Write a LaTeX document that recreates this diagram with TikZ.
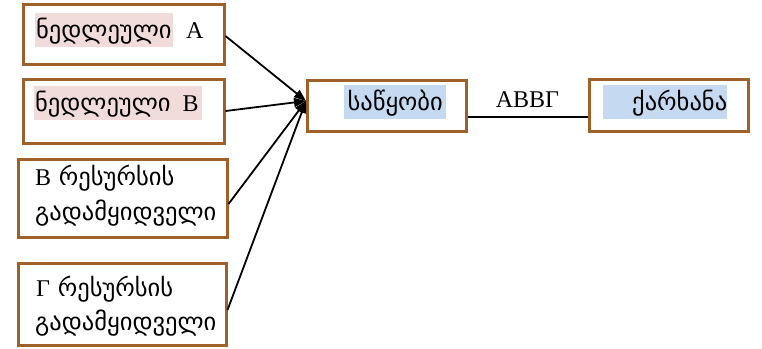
\documentclass[tikz,border=0pt]{standalone}
\usepackage{fontspec}
\setmainfont{Liberation Serif}
\newfontfamily\geo{DejaVu Sans}
\usetikzlibrary{arrows.meta}
\definecolor{boxbrown}{HTML}{A0602A}
\definecolor{hlpink}{HTML}{F2DCDB}
\definecolor{hlblue}{HTML}{C5D9F1}
\tikzset{
  box/.style={draw=boxbrown, line width=3pt, rectangle, inner sep=0pt},
  txt/.style={font=\fontsize{24}{36}\selectfont, inner sep=0pt, anchor=base west},
  geotxt/.style={font=\geo\fontsize{24.5}{36}\selectfont, inner sep=0pt, anchor=base west},
  hl/.style={inner xsep=0pt, text height=25pt, text depth=9pt},
  conn/.style={line width=1.8pt, -{Triangle[length=12pt,width=9pt]}},
  plain/.style={line width=1.3pt}
}
\begin{document}
\begin{tikzpicture}[x=1pt,y=-1pt]
\useasboundingbox (0,0) rectangle (762,348);
% boxes
\node[box, minimum width=201pt, minimum height=60pt] (A) at (123.5,34.5) {};
\node[box, minimum width=201pt, minimum height=64pt] (B) at (123.5,111) {};
\node[box, minimum width=209pt, minimum height=78pt] (C) at (122.5,198) {};
\node[box, minimum width=208pt, minimum height=82pt] (D) at (122,304) {};
\node[box, minimum width=159pt, minimum height=51pt] (S) at (386.5,105.5) {};
\node[box, minimum width=159pt, minimum height=52pt] (F) at (668.5,105) {};
% texts
\node[geotxt, fill=hlpink, hl, text width=138pt] (At) at (35,38) {\hspace{1pt}ნედლეული};
\node[txt] (Al) at (186,38) {A};
\node[geotxt, fill=hlpink, hl, text width=168pt] (Bt) at (34,111) {\hspace{1pt}ნედლეული\hspace{12pt}{\rmfamily\fontsize{24}{36}\selectfont B}};
\node[geotxt] (C1) at (35,185) {{\rmfamily\fontsize{24}{36}\selectfont B} რესურსის};
\node[geotxt] (C2) at (35,220) {გადამყიდველი};
\node[geotxt] (D1) at (36,296) {{\rmfamily\fontsize{24}{36}\selectfont Γ} რესურსის};
\node[geotxt] (D2) at (35,330) {გადამყიდველი};
\node[geotxt, fill=hlblue, hl, text width=102pt, align=center] (St) at (344,110) {საწყობი};
\node[geotxt, fill=hlblue, hl, text width=124pt, align=right] (Ft) at (603,110) {ქარხანა};
% connectors
\coordinate (tip) at (306,101);
\draw[conn] (A.east |- 0,36) -- (tip);
\draw[conn] (B.east) -- (tip);
\draw[conn] (C.east |- 0,204) -- (tip);
\draw[conn] (D.east |- 0,310) -- (tip);
\draw[plain] (S.east |- 0,117) -- node[above=9pt, font=\fontsize{24}{28}\selectfont, inner sep=0pt] (lab) {ABBΓ} (F.west |- 0,117);
\end{tikzpicture}
\end{document}
